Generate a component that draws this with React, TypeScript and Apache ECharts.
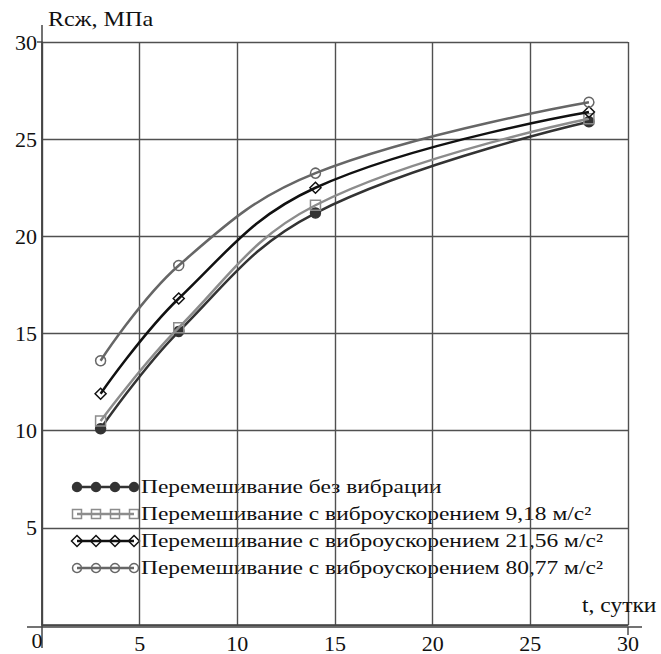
import React, { useEffect, useRef } from "react";
import * as echarts from "echarts";

const days = [3, 7, 14, 28];
const noVibration = [10.1, 15.1, 21.2, 25.9];
const vib918 = [10.5, 15.3, 21.6, 26.05];
const vib2156 = [11.9, 16.8, 22.5, 26.4];
const vib8077 = [13.6, 18.5, 23.25, 26.9];
const seriesNames = [
  "Перемешивание без вибрации",
  "Перемешивание с виброускорением 9,18 м/с²",
  "Перемешивание с виброускорением 21,56 м/с²",
  "Перемешивание с виброускорением 80,77 м/с²",
];
const seriesValues = [noVibration, vib918, vib2156, vib8077];
const lineColors = ["#333333", "#8c8c8c", "#111111", "#666666"];
const symbols = ["circle", "rect", "diamond", "circle"];
const filled = [true, false, false, false];
const yTitle = "Rсж, МПа";
const xTitle = "t, сутки";

const FONT = "Liberation Serif";

export default function App() {
  const ref = useRef<HTMLDivElement>(null);
  useEffect(() => {
    document.body.style.margin = "0";
    const chart = echarts.init(ref.current!, null, { renderer: "svg" });

    const legendChildren: any[] = [
      { type: "rect", shape: { x: 65, y: 471, width: 545, height: 114 }, style: { fill: "#fff" } },
    ];
    const rowY = [487, 514, 541, 568];
    const mx = [77, 96, 115, 134];
    seriesNames.forEach((name, i) => {
      const y = rowY[i];
      const c = lineColors[i];
      legendChildren.push({
        type: "line",
        shape: { x1: 77, y1: y, x2: 134, y2: y },
        style: { stroke: c, lineWidth: 2.5 },
      });
      mx.forEach((x) => {
        if (symbols[i] === "circle") {
          legendChildren.push({
            type: "circle",
            shape: { cx: x, cy: y, r: 4.5 },
            style: { fill: filled[i] ? c : "rgba(255,255,255,0)", stroke: c, lineWidth: 1.5 },
          });
        } else if (symbols[i] === "rect") {
          legendChildren.push({
            type: "rect",
            shape: { x: x - 4.5, y: y - 4.5, width: 9, height: 9 },
            style: { fill: "rgba(255,255,255,0)", stroke: c, lineWidth: 1.5 },
          });
        } else {
          legendChildren.push({
            type: "polygon",
            shape: { points: [[x, y - 5.5], [x + 5.5, y], [x, y + 5.5], [x - 5.5, y]] },
            style: { fill: "rgba(255,255,255,0)", stroke: c, lineWidth: 1.5 },
          });
        }
      });
      legendChildren.push({
        type: "text",
        x: 141,
        y: y,
        scaleX: 1.235,
        style: {
          text: name,
          fontFamily: FONT,
          fontSize: 19,
          fill: "#111",
          verticalAlign: "middle",
          align: "left",
        },
      });
    });

    const option: any = {
      animation: false,
      backgroundColor: "#fff",
      textStyle: { fontFamily: FONT },
      grid: { left: 42, right: 33, top: 42, bottom: 27, containLabel: false },
      xAxis: {
        type: "value",
        min: 0,
        max: 30,
        interval: 5,
        axisLine: { show: true, lineStyle: { color: "#444", width: 1.5 } },
        axisTick: { show: false },
        splitLine: { show: true, lineStyle: { color: "#505050", width: 1.4 } },
        axisLabel: {
          showMinLabel: false,
          margin: 7,
          fontFamily: FONT,
          fontSize: 22,
          color: "#111",
        },
      },
      yAxis: {
        type: "value",
        min: 0,
        max: 30,
        interval: 5,
        axisLine: { show: true, lineStyle: { color: "#444", width: 1.5 } },
        axisTick: { show: false },
        splitLine: { show: true, lineStyle: { color: "#505050", width: 1.4 } },
        axisLabel: {
          showMinLabel: false,
          margin: 5,
          fontFamily: FONT,
          fontSize: 22,
          color: "#111",
        },
      },
      series: seriesNames.map((name, i) => ({
        name,
        type: "line",
        data: days.map((d, k) => [d, seriesValues[i][k]]),
        smooth: 0.4,
        symbol: symbols[i],
        symbolSize: symbols[i] === "diamond" ? 11 : 10,
        showSymbol: true,
        lineStyle: { color: lineColors[i], width: 2.5 },
        itemStyle: {
          color: filled[i] ? lineColors[i] : "rgba(255,255,255,0)",
          borderColor: lineColors[i],
          borderWidth: 1.5,
        },
        z: 3 + i,
      })),
      graphic: [
        { type: "line", shape: { x1: 27, y1: 627, x2: 642, y2: 627 }, style: { stroke: "#444", lineWidth: 1.5 }, z: 1 },
        { type: "line", shape: { x1: 42, y1: 25, x2: 42, y2: 648 }, style: { stroke: "#444", lineWidth: 1.5 }, z: 1 },
        { type: "line", shape: { x1: 37, y1: 42, x2: 42, y2: 42 }, style: { stroke: "#444", lineWidth: 1.4 }, z: 1 },
        { type: "line", shape: { x1: 628, y1: 627, x2: 628, y2: 635 }, style: { stroke: "#444", lineWidth: 1.4 }, z: 1 },
        {
          type: "text",
          x: 37,
          y: 640,
          style: { text: "0", fontFamily: FONT, fontSize: 22, fill: "#111", align: "center", verticalAlign: "middle" },
          z: 1,
        },
        {
          type: "text",
          x: 48,
          y: 19,
          scaleX: 1.15,
          style: { text: yTitle, fontFamily: FONT, fontSize: 21, fill: "#111", align: "left", verticalAlign: "middle" },
          z: 1,
        },
        {
          type: "text",
          x: 582,
          y: 605,
          scaleX: 1.12,
          style: { text: xTitle, fontFamily: FONT, fontSize: 21, fill: "#111", align: "left", verticalAlign: "middle" },
          z: 1,
        },
        { type: "group", children: legendChildren, z: 10 },
      ],
    };
    chart.setOption(option);
    return () => chart.dispose();
  }, []);
  return <div ref={ref} style={{ width: 661, height: 654 }} />;
}
